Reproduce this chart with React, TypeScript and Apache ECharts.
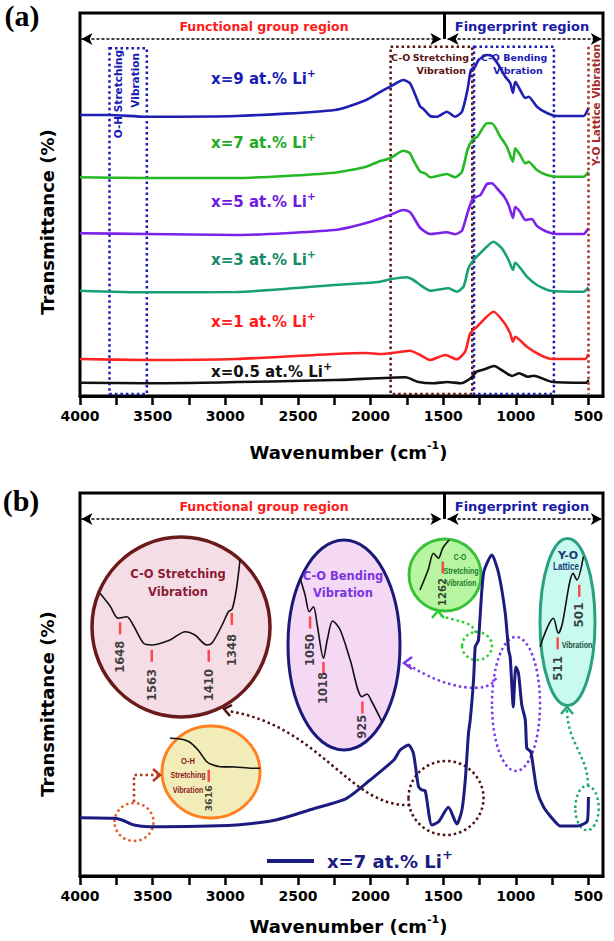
import React, { useEffect, useRef } from "react";
import * as echarts from "echarts";

const FONT = '"DejaVu Sans", Verdana, sans-serif';
const NARROW = '"Liberation Sans", Arial, sans-serif';

// ---- axis ticks / labels (wavenumber, cm-1) ----
const WN_TICKS = [500, 750, 1000, 1250, 1500, 1750, 2000, 2250, 2500, 2750, 3000, 3250, 3500, 3750, 4000];
const WN_LABELS = [500, 1000, 1500, 2000, 2500, 3000, 3500, 4000];

// ---- panel (a): stacked spectra [wavenumber, offset transmittance (a.u.)] ----
const traceX9: [number, number][] = [
  [4000, 281], [3800, 281], [3548, 279.3], [2925, 280], [2247, 286], [2030, 296], [1934, 304], [1865, 309.3],
  [1775, 316], [1730, 313], [1706, 306], [1658, 289.3], [1636, 287], [1590, 280], [1541, 279.3], [1475, 284.3],
  [1418, 279.3], [1371, 284.3], [1333, 306], [1309, 326], [1280, 329.3], [1257, 336], [1199, 341], [1165, 340],
  [1119, 331], [1073, 319.3], [1039, 313], [1020, 303], [1004, 314.3], [970, 306], [935, 298], [912, 299.3],
  [855, 289.3], [786, 283], [717, 280], [534, 280], [500, 288],
];
const traceX7a: [number, number][] = [
  [4000, 218.7], [3548, 218], [2925, 218], [2247, 223.3], [2030, 229.3], [1934, 235], [1865, 237.7], [1775, 245.3],
  [1730, 243], [1706, 236], [1658, 224.3], [1624, 222.7], [1590, 218.7], [1475, 222], [1418, 218.7], [1371, 224.3],
  [1333, 246], [1300, 256], [1265, 259.3], [1199, 272.7], [1165, 272.7], [1107, 259.3], [1062, 249.3], [1020, 234.3],
  [1004, 247.7], [970, 241], [935, 232.7], [912, 234.3], [855, 226], [786, 221], [717, 219.3], [534, 219.3], [500, 224.3],
];
const traceX5: [number, number][] = [
  [4000, 162.7], [3548, 162], [2925, 161], [2247, 166], [2030, 173], [1865, 181], [1775, 186], [1730, 184],
  [1706, 179.3], [1658, 168], [1590, 162], [1475, 163.7], [1418, 161.7], [1371, 165.3], [1333, 183], [1300, 196],
  [1270, 199.3], [1243, 201], [1199, 212], [1165, 212.7], [1120, 206], [1080, 199.3], [1050, 191], [1020, 178],
  [1004, 189], [970, 184], [935, 176], [890, 177], [855, 170], [786, 164.3], [717, 162], [534, 162], [500, 167.7],
];
const traceX3: [number, number][] = [
  [4000, 105.3], [3548, 103.7], [2925, 104], [2247, 111], [2030, 113], [1934, 114.3], [1865, 116.7], [1750, 118.7],
  [1705, 116], [1658, 111], [1590, 105.3], [1463, 107.7], [1406, 104.3], [1360, 109.3], [1326, 127.7], [1291, 136],
  [1245, 142.7], [1154, 154.3], [1096, 147.7], [1050, 136], [1020, 126], [1004, 133.3], [924, 119.3], [855, 111],
  [763, 105.3], [534, 104.3], [500, 108.7],
];
const traceX1: [number, number][] = [
  [4000, 37], [3548, 36], [2925, 37], [2247, 42], [2030, 43], [1934, 42], [1800, 44], [1727, 45.3], [1658, 41],
  [1590, 36], [1486, 41], [1406, 36.7], [1349, 44.3], [1314, 62.7], [1268, 69.3], [1154, 84.3], [1085, 74.3],
  [1039, 62.7], [1020, 54.3], [1004, 59.3], [924, 49.3], [832, 41], [752, 37], [522, 37], [500, 42],
];
const traceX05: [number, number][] = [
  [4000, 13.3], [3548, 12.7], [2247, 16], [1758, 18.7], [1677, 14.3], [1569, 12.7], [1470, 14], [1379, 12.7],
  [1311, 17.7], [1270, 24.3], [1216, 26.7], [1149, 30], [1080, 24.3], [1026, 20], [977, 22.7], [917, 19.3],
  [877, 20.3], [756, 14.3], [511, 13.3], [500, 16],
];

// ---- panel (b): x = 7 at.% spectrum ----
const traceX7b: [number, number][] = [
  [4000, 58.3], [3766, 57.7], [3711, 56], [3629, 51], [3521, 49.3], [2925, 51], [2653, 56], [2382, 67.7],
  [2165, 77.7], [2003, 96], [1840, 116], [1796, 126], [1739, 131], [1705, 122.7], [1670, 89.3], [1647, 86],
  [1624, 85.3], [1578, 51], [1532, 54.3], [1464, 68.7], [1406, 52], [1371, 66], [1348, 96], [1326, 142.7],
  [1314, 156], [1291, 196], [1280, 229], [1270, 232], [1257, 236], [1222, 303], [1165, 321], [1119, 303],
  [1073, 263], [1050, 226], [1039, 219], [1027, 189], [1018, 169], [1000, 209], [982, 203], [959, 171],
  [935, 156], [925, 128], [910, 126], [896, 124], [855, 86], [809, 69], [740, 56], [694, 50], [579, 50],
  [522, 53], [506, 56], [500, 79],
];

// ---- insets (magnified views) ----
const insetCOStretch: [number, number][] = [
  [1702, 106.7], [1675, 94], [1653, 81.7], [1630, 83.3], [1613, 75], [1585, 56.7], [1563, 55], [1514, 60],
  [1473, 68.3], [1447, 65], [1415, 55], [1401, 57], [1374, 75], [1357, 88.3], [1347, 91], [1336, 110], [1326, 140],
];
const peaksCOStretch = [1648, 1563, 1410, 1348];
const tickCOStretch = [71.7, 44.2, 44.2, 81];
const labelCOStretch = [43.3, 15, 15, 50];

const insetCOBend: [number, number][] = [
  [1074, 181.7], [1062, 165], [1052, 148.3], [1042, 153.3], [1033, 135], [1018, 101.7], [1009, 120], [996, 139],
  [978, 130], [954, 100], [926, 63.3], [914, 66], [902, 58], [878, 38.3],
];
const peaksCOBend = [1050, 1018, 925];
const tickCOBend = [137.5, 92, 52.5];
const labelCOBend = [110, 72, 33.3];

const insetCO1262: [number, number][] = [[1338, 30], [1311, 50], [1293, 66.7], [1277, 61.7], [1262, 72], [1241, 80]];
const peaksCO1262 = [1262];
const tickCO1262 = [52.5];
const labelCO1262 = [28];

const insetYO: [number, number][] = [
  [519.2, 53.3], [513, 81.7], [510.7, 66.7], [509, 75], [503.8, 126.7], [502.1, 120], [499.1, 143.3],
];
const peaksYO = [511, 501];
const tickYO = [56.7, 109.2];
const labelYO = [31.7, 85];

const insetOH: [number, number][] = [
  [3771, 61.7], [3731, 61], [3695, 58.3], [3659, 50], [3624, 38.3], [3599, 35], [3569, 33.3], [3511, 33],
  [3459, 32], [3411, 31.7],
];
const peaksOH = [3616];
const tickOH = [24.2];
const labelOH = [1.7];

const richSup = (size: number, color: string) => ({
  m: { fontSize: size, fontWeight: "bold", fontFamily: FONT, color, fill: color, lineHeight: size + 8 },
  s: { fontSize: Math.round(size * 0.72), fontWeight: "bold", fontFamily: FONT, color, fill: color, verticalAlign: "top", lineHeight: 10 },
});

const mainX = (gridIndex: number, nameGap: number) => ({
  gridIndex,
  type: "value",
  inverse: true,
  min: 400,
  max: 4000,
  axisLine: { show: true, onZero: false, lineStyle: { color: "#000", width: 3 } },
  axisTick: { show: true, inside: false, length: 9, customValues: WN_TICKS, lineStyle: { color: "#000", width: 2.5 } },
  axisLabel: {
    show: true, customValues: WN_LABELS, margin: 13, fontSize: 14, fontWeight: "bold", fontFamily: FONT, color: "#000",
    formatter: (v: number) => String(v),
  },
  splitLine: { show: false },
  name: "{n|Wavenumber (cm}{s|-1}{n|)}",
  nameLocation: "middle",
  nameGap,
  nameTextStyle: {
    padding: [0, 0, 0, 14],
    rich: {
      n: { fontSize: 18, fontWeight: "bold", fontFamily: FONT, color: "#000", lineHeight: 24 },
      s: { fontSize: 11, fontWeight: "bold", fontFamily: FONT, color: "#000", verticalAlign: "top", lineHeight: 12 },
    },
  },
});

const insetX = (gridIndex: number, min: number, max: number) => ({
  gridIndex, type: "value", inverse: true, min, max, show: false,
});
const insetY = (gridIndex: number, max: number) => ({ gridIndex, type: "value", min: 0, max, show: false });

const spec = (name: string, data: [number, number][], color: string, xi: number, width = 2.6, extra: any = {}) => ({
  name, type: "line", xAxisIndex: xi, yAxisIndex: xi, data, showSymbol: false, smooth: 0.2,
  lineStyle: { color, width }, itemStyle: { color }, z: 3, ...extra,
});

const insetLine = (data: [number, number][], xi: number) => ({
  type: "line", xAxisIndex: xi, yAxisIndex: xi, data, showSymbol: false, smooth: 0.3, clip: false,
  lineStyle: { color: "#111", width: 1.6 }, z: 5, silent: true,
});
const insetTicks = (peaks: number[], ys: number[], xi: number) => ({
  type: "scatter", xAxisIndex: xi, yAxisIndex: xi, clip: false, silent: true,
  symbol: "rect", symbolSize: [2.5, 12], itemStyle: { color: "#ff2424" }, z: 6,
  data: peaks.map((p, i) => [p, ys[i]]),
});
const insetLabels = (peaks: number[], ys: number[], xi: number, size: number) => ({
  type: "scatter", xAxisIndex: xi, yAxisIndex: xi, clip: false, silent: true,
  symbolSize: 1, itemStyle: { color: "transparent" }, z: 6,
  data: peaks.map((p, i) => [p, ys[i]]),
  label: {
    show: true, position: "inside", rotate: 90, fontSize: size, fontWeight: "bold", fontFamily: FONT, color: "#111",
    formatter: (p: any) => String(p.value[0]),
  },
});

const dotted = (type: any, color: string) => ({
  color: "transparent", borderColor: color, borderWidth: 2.5, borderType: type,
});

const headerMarkLine = {
  silent: true,
  symbolSize: [9, 11],
  label: { show: false },
  lineStyle: { color: "#000", width: 1.6, type: [3, 2] },
  data: [
    [{ coord: [3990, 357], symbol: "arrow" }, { coord: [1512, 357], symbol: "arrow" }],
    [{ coord: [1470, 357], symbol: "arrow" }, { coord: [408, 357], symbol: "arrow" }],
    [
      { coord: [1490, 383], symbol: "none", lineStyle: { type: "solid", width: 3, color: "#000" } },
      { coord: [1490, 357], symbol: "none" },
    ],
  ],
};

const txt = (text: string, x: number, y: number, size: number, color: string, opts: any = {}) => ({
  type: "text", x, y, silent: true, rotation: opts.rotation || 0, scaleX: opts.scaleX || 1, z: opts.z || 1,
  style: {
    text, fill: color, align: opts.align || "center", verticalAlign: "middle",
    font: `bold ${size}px ${opts.family || FONT}`,
  },
});
const richTxt = (label: string, x: number, y: number, size: number, color: string) => ({
  type: "text", x, y, silent: true, z: 1,
  style: { text: `{m|${label}}{s|+}`, align: "left", verticalAlign: "middle", rich: richSup(size, color) },
});
const ell = (cx: number, cy: number, rx: number, ry: number, fill: string, stroke: string, lw: number, dash?: number[]) => ({
  type: "ellipse", silent: true, z: 0,
  shape: { cx, cy, rx, ry },
  style: { fill, stroke, lineWidth: lw, lineDash: dash || null },
});
const bez = (pts: number[], color: string) => ({
  type: "bezierCurve", silent: true, z: 0,
  shape: { x1: pts[0], y1: pts[1], cpx1: pts[2], cpy1: pts[3], cpx2: pts[4], cpy2: pts[5], x2: pts[6], y2: pts[7] },
  style: { stroke: color, fill: "none", lineWidth: 2.5, lineDash: [2.5, 3] },
});
const chevron = (pts: number[][], color: string) => ({
  type: "polyline", silent: true, z: 0, shape: { points: pts }, style: { stroke: color, fill: "none", lineWidth: 2.5 },
});

export default function App() {
  const ref = useRef<HTMLDivElement>(null);
  useEffect(() => {
    if (!ref.current) return;
    const chart = echarts.init(ref.current, null, { renderer: "svg" });
    const DOT = [2.5, 3];
    const option: any = {
      animation: false,
      backgroundColor: "#fff",
      grid: [
        { left: 80, top: 13, width: 523, height: 383, show: true, borderColor: "#000", borderWidth: 3 },
        { left: 80, top: 493, width: 523, height: 383, show: true, borderColor: "#000", borderWidth: 3 },
        { left: 100, top: 550, width: 140, height: 150 },
        { left: 300, top: 560, width: 82, height: 200 },
        { left: 420, top: 540, width: 30, height: 80 },
        { left: 540, top: 540, width: 44, height: 160 },
        { left: 165, top: 730, width: 95, height: 70 },
      ],
      xAxis: [
        mainX(0, 44), mainX(1, 38),
        insetX(2, 1326, 1702), insetX(3, 878, 1074.2), insetX(4, 1238, 1338), insetX(5, 498.8, 519.2), insetX(6, 3411, 3791),
      ],
      yAxis: [
        { gridIndex: 0, type: "value", min: 0, max: 383, show: false },
        { gridIndex: 1, type: "value", min: 0, max: 383, show: false },
        insetY(2, 150), insetY(3, 200), insetY(4, 80), insetY(5, 160), insetY(6, 70),
      ],
      legend: {
        data: ["x=7 at.% Li+"],
        left: 262, top: 843,
        icon: "rect", itemWidth: 47, itemHeight: 4,
        formatter: () => "{m|x=7 at.% Li}{s|+}",
        textStyle: { padding: [0, 0, 0, 8], rich: richSup(18, "#1c1c80") },
      },
      series: [
        spec("x=9 at.% Li+", traceX9, "#1f1fb4", 0),
        spec("x=7 (a)", traceX7a, "#25b825", 0),
        spec("x=5 at.% Li+", traceX5, "#7a22ea", 0),
        spec("x=3 at.% Li+", traceX3, "#17a077", 0),
        spec("x=1 at.% Li+", traceX1, "#ff2222", 0),
        spec("x=0.5 at.% Li+", traceX05, "#111111", 0, 2.6, {
          markArea: {
            silent: true,
            label: { show: false },
            data: [
              [{ coord: [3797, 347.7], itemStyle: dotted(DOT, "#1a1ab4") }, { coord: [3540, 2] }],
              [{ coord: [1862, 349.3], itemStyle: dotted(DOT, "#5a1414") }, { coord: [1300, 2] }],
              [{ coord: [1288, 349.3], itemStyle: dotted(DOT, "#1a1ab4") }, { coord: [738, 2] }],
            ],
          },
          markLine: {
            ...headerMarkLine,
            data: [
              ...headerMarkLine.data,
              [
                { coord: [500, 349.3], symbol: "none", lineStyle: { type: DOT, width: 2.5, color: "#b02a2a" } },
                { coord: [500, 2], symbol: "none" },
              ],
            ],
          },
        }),
        spec("x=7 at.% Li+", traceX7b, "#1c1c80", 1, 3, { smooth: 0.22, markLine: headerMarkLine }),
        insetLine(insetCOStretch, 2), insetTicks(peaksCOStretch, tickCOStretch, 2), insetLabels(peaksCOStretch, labelCOStretch, 2, 11.5),
        insetLine(insetCOBend, 3), insetTicks(peaksCOBend, tickCOBend, 3), insetLabels(peaksCOBend, labelCOBend, 3, 11.5),
        insetLine(insetCO1262, 4), insetTicks(peaksCO1262, tickCO1262, 4), insetLabels(peaksCO1262, labelCO1262, 4, 10),
        insetLine(insetYO, 5), insetTicks(peaksYO, tickYO, 5), insetLabels(peaksYO, labelYO, 5, 12),
        insetLine(insetOH, 6), insetTicks(peaksOH, tickOH, 6), insetLabels(peaksOH, labelOH, 6, 9.5),
      ],
      graphic: [
        txt("(a)", 22, 15, 30, "#000", { family: '"Liberation Serif", serif' }),
        txt("(b)", 21, 500, 30, "#000", { family: '"Liberation Serif", serif' }),
        txt("Transmittance (%)", 47, 222, 18, "#000", { rotation: Math.PI / 2 }),
        txt("Transmittance (%)", 47, 704, 18, "#000", { rotation: Math.PI / 2 }),
        // headers
        txt("Functional group region", 264, 26, 12.5, "#ff1a1a"),
        txt("Fingerprint region", 522, 26, 13, "#1a1aa8"),
        txt("Functional group region", 264, 506, 12.5, "#ff1a1a"),
        txt("Fingerprint region", 522, 506, 13, "#1a1aa8"),
        // panel (a) box captions
        txt("O-H Stretching", 118, 50, 10.5, "#1a1ab4", { rotation: Math.PI / 2, align: "right" }),
        txt("Vibration", 135, 53, 10.5, "#1a1ab4", { rotation: Math.PI / 2, align: "right" }),
        txt("C-O", 391, 57, 9.5, "#5a1414", { align: "left" }),
        txt("Stretching", 469, 57, 9.5, "#5a1414", { align: "right" }),
        txt("Vibration", 466, 70, 9.5, "#5a1414", { align: "right" }),
        txt("C-O Bending", 514, 57, 9.5, "#1a1ab4"),
        txt("Vibration", 518, 70, 9.5, "#1a1ab4"),
        txt("Y-O Lattice Vibration", 596, 105, 10.5, "#a82a2a", { rotation: Math.PI / 2 }),
        // panel (a) sample labels
        richTxt("x=9 at.% Li", 211, 79, 15, "#1a1ab4"),
        richTxt("x=7 at.% Li", 211, 143, 15, "#22aa22"),
        richTxt("x=5 at.% Li", 211, 202, 15, "#6f1ae0"),
        richTxt("x=3 at.% Li", 211, 260, 15, "#168a66"),
        richTxt("x=1 at.% Li", 211, 322, 15, "#ff1a1a"),
        richTxt("x=0.5 at.% Li", 211, 372, 15, "#111111"),
        // panel (b) inset bubbles
        ell(181, 627, 89, 90, "#f5dde6", "#6b1a1a", 3.5),
        ell(344, 645, 56, 105, "#f4d8f4", "#1a1a7a", 3),
        ell(445, 575, 36, 36, "#b8f5a0", "#3ac03a", 3),
        ell(567.5, 622, 27.5, 83.5, "#c8faf0", "#2aa080", 3),
        ell(211, 772, 49, 46, "#f2ecb8", "#ff8020", 3),
        txt("C-O Stretching", 178, 574, 11.5, "#8b1a35"),
        txt("Vibration", 178, 592, 11.5, "#8b1a35"),
        txt("C-O Bending", 343, 576, 11.5, "#7a35e0"),
        txt("Vibration", 343, 593, 11.5, "#7a35e0"),
        txt("C-O", 460, 557, 9, "#1a7a2a", { family: NARROW, scaleX: 0.75 }),
        txt("Stretching", 461, 571, 9.5, "#1a7a2a", { family: NARROW, scaleX: 0.75 }),
        txt("Vibration", 461, 583, 9.5, "#1a7a2a", { family: NARROW, scaleX: 0.75 }),
        txt("Y-O", 568, 555, 11, "#1a3a7a"),
        txt("Lattice", 566, 567, 10, "#1a3a7a", { family: NARROW, scaleX: 0.8 }),
        txt("Vibration", 577, 645, 9.5, "#1a4a3a", { family: NARROW, scaleX: 0.75 }),
        txt("O-H", 188, 761, 9.5, "#8b1a1a", { family: NARROW, scaleX: 0.8 }),
        txt("Stretching", 188, 775, 9.5, "#8b1a1a", { family: NARROW, scaleX: 0.75 }),
        txt("Vibration", 188, 790, 9.5, "#8b1a1a", { family: NARROW, scaleX: 0.75 }),
        // dotted call-out circles on the main curve
        ell(134, 822, 19.5, 19, "none", "#e0602a", 2.5, [2.5, 3]),
        ell(446, 798, 37.5, 37, "none", "#4a1010", 2.5, [2.5, 3]),
        ell(477, 646, 15, 14, "none", "#2ad02a", 2.5, [2.5, 3]),
        ell(516, 704, 24, 67, "none", "#7a3ae8", 2.5, [2.5, 3]),
        ell(587, 808, 11.7, 22.3, "none", "#20a878", 2.5, [2.5, 3]),
        // dotted arrows
        { type: "polyline", silent: true, z: 0, shape: { points: [[134, 802], [134, 775], [158, 775]] },
          style: { stroke: "#b03a1a", fill: "none", lineWidth: 2.5, lineDash: [2.5, 3] } },
        chevron([[153, 769], [160, 775], [153, 781]], "#b03a1a"),
        bez([410, 805, 350, 808, 320, 725, 228, 711], "#4a1010"),
        chevron([[232, 705], [224, 709], [230, 716]], "#4a1010"),
        bez([496, 678, 490, 695, 445, 690, 406, 663], "#7a3ae8"),
        chevron([[412, 657], [404, 663], [412, 669]], "#7a3ae8"),
        bez([476, 633, 472, 620, 455, 622, 440, 615], "#2ad02a"),
        chevron([[432, 618], [438, 611], [444, 618]], "#2ad02a"),
        bez([588, 786, 588, 755, 568, 745, 567, 710], "#20a878"),
        chevron([[561, 714], [567, 707], [573, 714]], "#20a878"),
      ],
    };
    chart.setOption(option);
    return () => chart.dispose();
  }, []);
  return <div ref={ref} style={{ position: "absolute", left: 0, top: 0, width: 614, height: 941, background: "#fff" }} />;
}
